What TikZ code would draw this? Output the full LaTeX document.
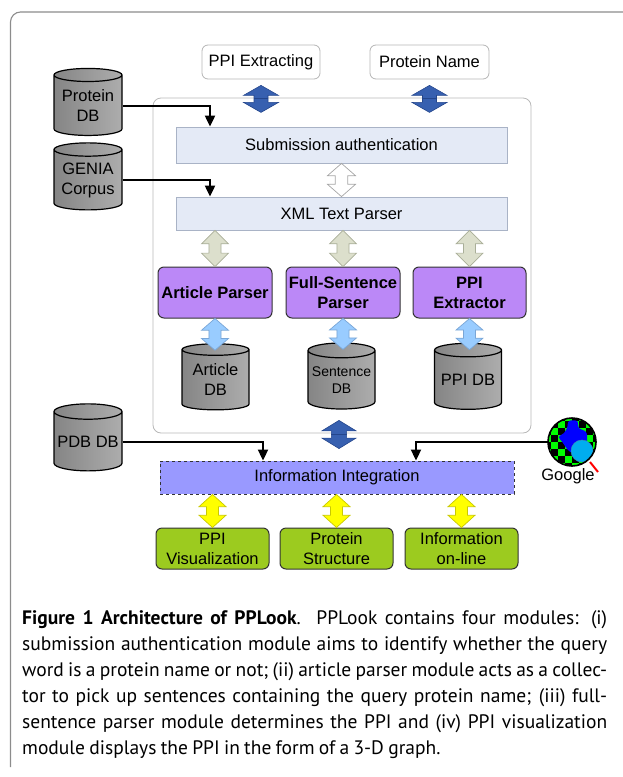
\documentclass[tikz,border=0pt]{standalone}
\usepackage{fontspec}
\setmainfont{Liberation Sans}
\newfontfamily\capfont{PT Sans}
\usetikzlibrary{calc, positioning, arrows.meta, shapes.geometric}

\definecolor{topgray}{HTML}{B4B4B4}
\definecolor{framegray}{HTML}{8C8C8C}
\definecolor{coregray}{HTML}{B8B8B8}
\definecolor{barfill}{HTML}{E4EAF6}
\definecolor{bardraw}{HTML}{A9B3C6}
\definecolor{modfill}{HTML}{BB88F7}
\definecolor{outfill}{HTML}{9CCB1F}
\definecolor{intfill}{HTML}{9999FF}
\definecolor{dbdark}{HTML}{858585}
\definecolor{dblight}{HTML}{ADADAD}
\definecolor{arrblue}{HTML}{3760B0}
\definecolor{arrbluedk}{HTML}{24468C}
\definecolor{arrgray}{HTML}{DCDFCC}
\definecolor{arrgraydk}{HTML}{A9AE98}
\definecolor{arrsky}{HTML}{99CCFF}
\definecolor{arrskydk}{HTML}{7AA6D6}
\definecolor{arryel}{HTML}{FFFF00}
\definecolor{arryeldk}{HTML}{C9C900}
\definecolor{chkgreen}{HTML}{00FF00}

\newcommand{\lbl}{\fontsize{16.5}{20}\selectfont}

% block arrow with two heads: style, from, to, half width, shaft ratio, mid line style
\newcommand{\dblarrow}[6]{%
  \path[#1] let \p1=#2, \p2=#3, \n1={#4}, \n2={#4*#5}, \n3={(\y1-\y2)*0.37} in
    (\x1,\y1) -- (\x1+\n1,\y1-\n3) -- (\x1+\n2,\y1-\n3) -- (\x1+\n2,\y2+\n3)
    -- (\x1+\n1,\y2+\n3) -- (\x1,\y2) -- (\x1-\n1,\y2+\n3) -- (\x1-\n2,\y2+\n3)
    -- (\x1-\n2,\y1-\n3) -- (\x1-\n1,\y1-\n3) -- cycle;
  \path[#6] let \p1=#2, \p2=#3 in
    ({\x1-#4*#5},{(\y1+\y2)/2}) -- ({\x1+#4*#5},{(\y1+\y2)/2});}

\tikzset{
  topbox/.style={draw=topgray, line width=0.8, rounded corners=6, minimum height=34, inner sep=0, font=\lbl},
  bar/.style={draw=bardraw, line width=0.8, fill=barfill, minimum width=331, inner sep=0, font=\lbl},
  module/.style={draw=black!80, line width=1, fill=modfill, rounded corners=6, minimum width=114, minimum height=51, align=center, inner sep=0, font=\lbl\bfseries},
  result/.style={draw=black!80, line width=1, fill=outfill, rounded corners=6, minimum width=113, minimum height=41, align=center, inner sep=0, font=\lbl},
  db/.style={cylinder, shape border rotate=90, aspect=0.25, draw=black, line width=1.2, left color=dbdark, right color=dblight, minimum width=68, minimum height=67, inner sep=0, align=center, font=\lbl},
  link/.style={-{Triangle[width=10pt,length=11pt]}, line width=2},
  bluearr/.style={fill=arrblue, draw=arrbluedk, line width=0.6},
  bluemid/.style={draw=arrbluedk, line width=0.9},
  hollowarr/.style={fill=white, draw=black!35, line width=0.7},
  grayarr/.style={fill=arrgray, draw=arrgraydk, line width=0.7},
  skyarr/.style={fill=arrsky, draw=arrskydk, line width=0.7},
  yelarr/.style={fill=arryel, draw=arryeldk, line width=0.7}
}

\begin{document}
\begin{tikzpicture}[x=1pt, y=-1pt]
  \useasboundingbox (0,0) rectangle (623,777);
  \draw[framegray, line width=1.1, rounded corners=10] (10.5,767) -- (10.5,12) -- (623,12);

  % nodes %
  \node[draw=coregray, line width=0.8, rounded corners=8, minimum width=378, minimum height=335, inner sep=0] (core) at (342,265.5) {};
  \node[topbox, minimum width=118] (ext) at (261,62) {PPI Extracting};
  \node[topbox, minimum width=119] (pname) at (429.5,62) {Protein Name};

  \node[bar, minimum height=36] (subm) at (341.5,145) {Submission authentication};
  \node[bar, minimum height=33] (xml) at (341.5,213.5) {XML Text Parser};

  \node[db] (protdb) at (88,105.5) {Protein\\DB};
  \node[db] (genia) at (88,180) {GENIA\\Corpus};
  \node[db] (pdb) at (88,441.5) {PDB DB};

  \node[module] (art) at (215,292.5) {Article Parser};
  \node[module, right=13pt of art] (fsp) {Full-Sentence\\Parser};
  \node[module, minimum width=113, right=12pt of fsp] (ppx) {PPI\\Extractor};

  \node[db, minimum width=67, minimum height=66] (artdb) at (215.5,380) {Article\\DB};
  \node[db, minimum width=67, minimum height=66, font=\fontsize{14}{17}\selectfont] (sendb) at (341.5,380) {Sentence\\DB};
  \node[db, minimum width=67, minimum height=66] (ppidb) at (468,380) {PPI DB};

  \node[draw=black!80, dashed, line width=0.9, fill=intfill, minimum width=354, minimum height=33, inner sep=0, font=\lbl] (integ) at (337,477.5) {Information Integration};

  \node[result] (vis) at (212.5,548.5) {PPI\\Visualization};
  \node[result] (struct) at (336.5,548.5) {Protein\\Structure};
  \node[result] (online) at (461.5,548.5) {Information\\on-line};

  \node[circle, minimum size=48, inner sep=0, path picture={
      \begin{scope}[shift={(path picture bounding box.center)}]
        \foreach \i in {0,...,7}{\foreach \j in {0,...,7}{
          \pgfmathtruncatemacro{\k}{mod(\i+\j,2)}
          \ifnum\k=0 \fill[black] (-28+7*\i,-28+7*\j) rectangle +(7,7);
          \else \fill[chkgreen] (-28+7*\i,-28+7*\j) rectangle +(7,7); \fi}}
        \fill[blue] plot[smooth cycle] coordinates {(-3,-21) (5,-21) (7,-14) (14,-10) (15,-2) (10,6) (3,12) (-4,8) (-9,1) (-13,-5) (-8,-9) (-5,-14)};
        \fill[cyan, draw=cyan!70!black, line width=0.5] (10,9) circle[radius=11pt];
      \end{scope}}] (goo) at (572,442) {};
  \draw[red, line width=2] ([shift={(18,20)}]goo.center) -- ([shift={(26,30)}]goo.center);
  \draw[black, line width=1.6] (goo) circle[radius=24pt];
  \node[font=\lbl, below=-1pt of goo, xshift=-4pt] (goolbl) {Google};

  \node[anchor=north west, inner sep=0, text width=585, align=justify,
        font=\capfont\fontsize{19.5}{26}\selectfont] (cap) at (22,610)
    {\pretolerance=-1\tolerance=10000\hyphenpenalty=10000\emergencystretch=0pt
     \spaceskip=0.22em plus 0.3em minus 0.07em
     {\bfseries Figure 1 Architecture of PPLook}. PPLook contains four modules: (i)\linebreak
     submission authentication module aims to identify whether the query\linebreak
     word is a protein name or not; (ii) article parser module acts as a collec-\linebreak
     tor to pick up sentences containing the query protein name; (iii) full-\linebreak
     sentence parser module determines the PPI and (iv) PPI visualization\linebreak
     module displays the PPI in the form of a 3-D graph.};

  % edges %
  \draw[link] (protdb.east) -| ([xshift=-131.5pt]subm.north);
  \draw[link] (genia.east) -| ([xshift=-131.5pt]xml.north);
  \draw[link] (pdb.east) -| ([xshift=-74pt]integ.north);
  \draw[link] (goo.west) -| ([xshift=79pt]integ.north);

  \dblarrow{bluearr}{([yshift=-6pt]ext.south)}{([yshift=-33pt]ext.south)}{17.5}{0.4}{bluemid}
  \dblarrow{bluearr}{([yshift=-6pt]pname.south)}{([yshift=-33pt]pname.south)}{17.5}{0.4}{bluemid}
  \dblarrow{hollowarr}{(subm.south)}{(xml.north)}{14}{0.45}{}
  \foreach \m in {art,fsp,ppx}{
    \dblarrow{grayarr}{(xml.south -| \m.north)}{(\m.north)}{13.5}{0.45}{}
  }
  \foreach \m/\d in {art/artdb,fsp/sendb,ppx/ppidb}{
    \dblarrow{skyarr}{(\m.south)}{([yshift=-7pt]\d.north)}{13.5}{0.45}{}
  }
  \dblarrow{bluearr}{([xshift=-3pt,yshift=13pt]core.south)}{([xshift=2pt,yshift=12pt]integ.north)}{17}{0.45}{bluemid}
  \foreach \m in {vis,struct,online}{
    \dblarrow{yelarr}{(integ.south -| \m.north)}{(\m.north)}{13.5}{0.45}{}
  }
\end{tikzpicture}
\end{document}
